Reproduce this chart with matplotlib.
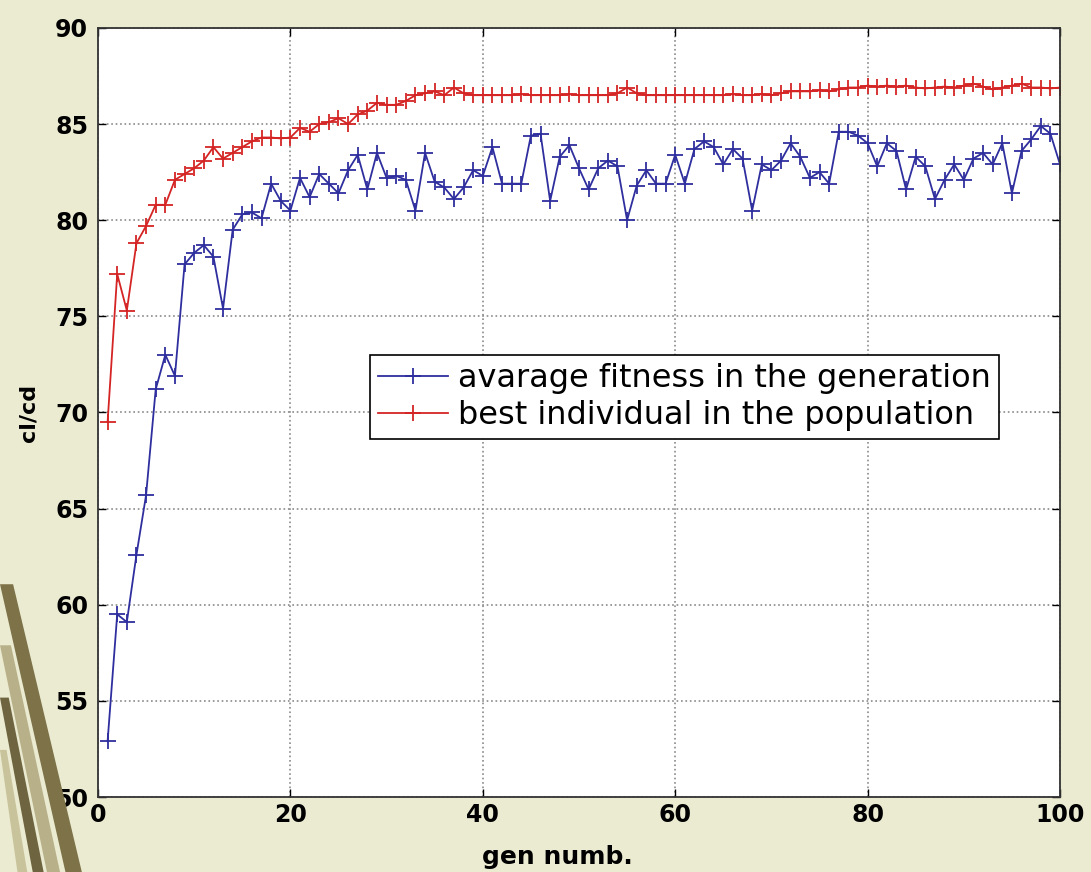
import numpy as np
import matplotlib.pyplot as plt
from matplotlib.patches import Polygon

# generation numbers
gen = np.arange(1, 101)

# average fitness in each generation
avg_fitness = [
    52.9, 59.5, 59.1, 62.6, 65.7, 71.2, 73.0, 71.9, 77.7, 78.3,
    78.7, 78.1, 75.4, 79.5, 80.3, 80.4, 80.1, 81.9, 81.0, 80.5,
    82.2, 81.2, 82.4, 81.9, 81.4, 82.6, 83.4, 81.6, 83.5, 82.2,
    82.3, 82.1, 80.5, 83.5, 82.0, 81.7, 81.1, 81.7, 82.6, 82.3,
    83.8, 81.9, 81.9, 81.9, 84.4, 84.5, 81.0, 83.3, 83.9, 82.7,
    81.6, 82.7, 83.1, 82.8, 80.0, 81.8, 82.6, 81.9, 81.9, 83.4,
    81.9, 83.7, 84.1, 83.8, 82.9, 83.7, 83.2, 80.5, 82.9, 82.6,
    83.1, 84.0, 83.3, 82.2, 82.5, 81.9, 84.6, 84.6, 84.4, 84.0,
    82.8, 84.0, 83.6, 81.6, 83.3, 82.8, 81.1, 82.1, 82.9, 82.1,
    83.2, 83.5, 82.9, 84.0, 81.4, 83.6, 84.2, 84.9, 84.5, 82.9,
]

# best individual in the population
best_fitness = [
    69.5, 77.2, 75.3, 78.8, 79.7, 80.8, 80.8, 82.1, 82.4, 82.7,
    83.1, 83.8, 83.2, 83.5, 83.8, 84.1, 84.3, 84.3, 84.25, 84.3,
    84.8, 84.6, 85.0, 85.1, 85.3, 85.0, 85.5, 85.7, 86.1, 86.0,
    86.0, 86.2, 86.5, 86.6, 86.7, 86.5, 86.9, 86.6, 86.5, 86.5,
    86.5, 86.5, 86.5, 86.55, 86.5, 86.5, 86.5, 86.5, 86.55, 86.5,
    86.5, 86.5, 86.5, 86.6, 86.9, 86.6, 86.5, 86.5, 86.5, 86.5,
    86.5, 86.5, 86.5, 86.5, 86.5, 86.55, 86.5, 86.5, 86.55, 86.5,
    86.6, 86.7, 86.7, 86.7, 86.75, 86.7, 86.8, 86.9, 86.9, 87.0,
    86.95, 87.0, 86.95, 87.0, 86.9, 86.85, 86.9, 86.95, 86.9, 87.0,
    87.1, 86.95, 86.8, 86.9, 87.0, 87.1, 86.9, 86.9, 86.85, 86.9,
]

xticks = [0, 20, 40, 60, 80, 100]
yticks = [50, 55, 60, 65, 70, 75, 80, 85, 90]

plt.rcParams['font.family'] = ['DejaVu Sans']

fig = plt.figure(figsize=(10.91, 8.72), dpi=100, facecolor='#ebebd2')

# slide background decoration in the lower left corner
stripes = [
    ([(0.0, 0.33), (0.012, 0.33), (0.075, 0.0), (0.06, 0.0)], '#7d7248'),
    ([(0.0, 0.26), (0.010, 0.26), (0.055, 0.0), (0.043, 0.0)], '#b8b088'),
    ([(0.0, 0.20), (0.008, 0.20), (0.040, 0.0), (0.030, 0.0)], '#6e6440'),
    ([(0.0, 0.14), (0.006, 0.14), (0.025, 0.0), (0.016, 0.0)], '#c9c39c'),
]
for pts, col in stripes:
    fig.patches.append(Polygon(pts, closed=True, transform=fig.transFigure,
                               facecolor=col, edgecolor='none', zorder=0))

ax = fig.add_axes([0.0898, 0.086, 0.8818, 0.882])
ax.set_facecolor('white')

ax.plot(gen, avg_fitness, color='#2e2e9e', marker='+', markersize=11,
        markeredgewidth=1.3, linewidth=1.3, label='avarage fitness in the generation')
ax.plot(gen, best_fitness, color='#d42424', marker='+', markersize=11,
        markeredgewidth=1.3, linewidth=1.3, label='best individual in the population')

ax.set_xlim(0, 100)
ax.set_ylim(50, 90)
ax.set_xticks(xticks)
ax.set_yticks(yticks)
ax.tick_params(direction='in', length=6, width=1, top=True, right=True,
               labelsize=17)
ax.tick_params(axis='y', pad=7)
ax.tick_params(axis='x', pad=4)
for lab in ax.get_xticklabels() + ax.get_yticklabels():
    lab.set_fontweight('bold')
ax.grid(True, linestyle=':', color='#8a8a8a', linewidth=1.2)
for sp in ax.spines.values():
    sp.set_linewidth(1.3)
    sp.set_color('#333333')

ax.set_xlabel('gen numb.', fontsize=18, fontweight='bold')
ax.xaxis.set_label_coords(0.478, -0.063)
ax.set_ylabel('cl/cd', fontsize=16, fontweight='bold', labelpad=12)

leg = ax.legend(loc='upper left', bbox_to_anchor=(0.283, 0.575), borderaxespad=0,
                fontsize=23, fancybox=False, framealpha=1, edgecolor='black',
                handlelength=2.2, handletextpad=0.3, borderpad=0.25, labelspacing=0.2)
leg.get_frame().set_linewidth(1.2)

fig.savefig('out.png', dpi=100, facecolor=fig.get_facecolor())
